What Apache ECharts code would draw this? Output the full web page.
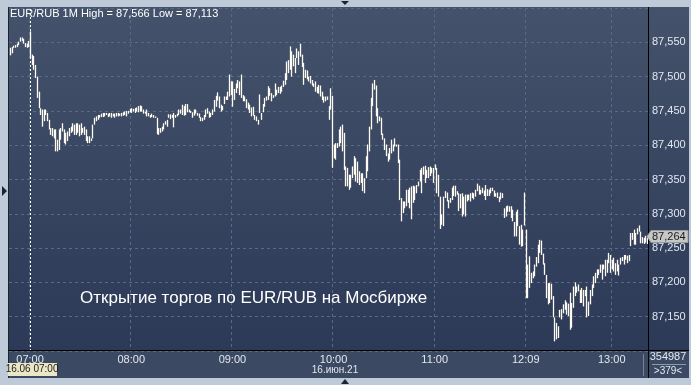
<!DOCTYPE html>
<html><head><meta charset="utf-8">
<script src="https://cdn.jsdelivr.net/npm/echarts@6/dist/echarts.min.js"></script>
<style>html,body{margin:0;padding:0;background:#bfcad8;}#c{width:691px;height:385px;}</style>
</head><body><div id="c"></div>
<script>
// ---- text / labels ----
const headerText = 'EUR/RUB 1M High = 87,566 Low = 87,113';
const annotation = 'Открытие торгов по EUR/RUB на Мосбирже';
const dateLabel = '16.июн.21';
const cursorLabel = '16.06 07:00';
const cursorIndex = 12;
const lastPrice = 87.264;
const volumeText = '354987';
const barCountText = '>379<';
const tickIndex = [12, 72, 132, 192, 252, 306, 357];
const tickLabels = ['07:00', '08:00', '09:00', '10:00', '11:00', '12:09', '13:00'];
const yMin = 87.1, yMax = 87.6, yStep = 0.05;

// ---- 1-minute bars: high / low ----
const highs = [
87.542,87.543,87.545,87.546,87.548,87.551,87.557,87.557,87.555,87.549,87.548,87.552,87.566,
87.532,87.530,87.517,87.500,87.478,87.454,87.452,87.452,87.452,87.447,
87.437,87.425,87.425,87.423,87.423,87.408,87.423,87.425,87.432,87.423,
87.418,87.420,87.425,87.427,87.432,87.430,87.432,87.432,87.430,87.432,
87.425,87.427,87.423,87.413,87.413,87.410,87.430,87.440,87.442,87.444,
87.444,87.446,87.447,87.447,87.447,87.446,87.447,87.447,87.446,87.446,
87.447,87.447,87.446,87.447,87.448,87.449,87.450,87.450,87.453,87.454,
87.453,87.454,87.455,87.457,87.458,87.457,87.452,87.449,87.452,87.447,
87.444,87.446,87.444,87.442,87.440,87.425,87.425,87.427,87.432,87.435,
87.437,
87.445,87.445,87.444,87.447,87.444,87.446,87.452,87.452,87.459,87.457,
87.460,87.460,87.452,87.450,87.448,87.452,87.452,87.447,87.446,87.441,
87.440,87.444,87.452,87.454,87.449,87.447,87.452,87.466,87.472,87.477,
87.471,87.459,87.457,87.471,87.471,87.478,87.503,87.493,87.493,87.482,
87.490,87.495,87.493,87.503,87.473,87.471,87.467,87.462,87.459,87.455,
87.456,87.444,87.442,87.437,87.474,87.447,87.460,87.469,87.471,87.486,
87.483,87.476,87.473,87.490,87.481,87.485,87.485,87.487,87.494,87.505,
87.522,87.524,87.544,87.537,87.532,87.527,87.541,87.537,87.548,87.532,
87.520,87.510,87.509,87.500,87.501,87.495,87.490,87.493,87.485,87.488,
87.487,87.478,87.471,87.471,87.471,
87.457,87.483,87.472,87.401,87.403,87.403,87.423,87.427,87.430,87.418,
87.369,87.367,87.357,87.357,87.369,87.384,87.381,87.376,87.362,87.359,
87.359,87.352,87.384,87.401,87.427,87.469,87.490,87.495,87.487,87.454,
87.442,87.440,87.417,87.410,87.401,87.388,87.396,87.408,87.401,87.410,
87.401,87.401,87.379,87.323,87.318,87.318,87.335,87.335,87.338,87.340,
87.341,87.340,87.342,87.347,87.364,87.367,87.369,87.370,87.364,87.368,
87.369,87.367,87.367,87.372,87.367,87.357,87.325,87.299,87.325,87.333,
87.331,87.320,87.323,87.338,87.341,87.341,87.333,87.330,87.329,87.330,
87.325,87.328,87.328,87.328,87.330,87.331,87.330,87.335,87.344,87.341,
87.335,87.338,87.334,87.342,87.336,87.335,
87.338,87.338,87.334,87.330,87.331,87.325,87.331,87.330,87.308,87.311,
87.312,87.311,87.311,87.306,87.288,87.303,87.306,87.282,87.284,87.277,
87.331,87.277,87.226,87.238,87.214,87.216,87.226,87.237,87.255,87.262,
87.261,87.242,87.228,87.211,87.199,87.199,87.198,87.180,87.149,87.141,
87.136,87.160,87.161,87.168,
87.174,87.171,87.169,87.185,87.170,87.194,87.200,87.194,87.197,87.189,
87.192,87.189,87.189,87.194,87.172,87.189,87.197,87.209,87.214,87.219,
87.219,87.226,87.226,87.226,87.233,87.233,87.243,87.240,87.233,87.236,
87.228,87.233,87.226,87.236,87.237,87.240,87.240,87.239,87.240,87.272,
87.272,87.277,87.272,87.279,87.283,87.274,87.266,87.265,87.268,87.265
];
const lows = [
87.531,87.534,87.542,87.542,87.543,87.546,87.551,87.552,87.548,87.543,87.542,87.543,87.527,
87.517,87.510,87.498,87.469,87.454,87.444,87.427,87.435,87.444,87.435,
87.423,87.415,87.413,87.410,87.391,87.391,87.393,87.408,87.420,87.403,
87.401,87.406,87.413,87.418,87.420,87.415,87.415,87.418,87.413,87.415,
87.418,87.415,87.406,87.403,87.403,87.406,87.410,87.430,87.435,87.437,
87.440,87.441,87.441,87.442,87.444,87.441,87.442,87.440,87.442,87.440,
87.442,87.442,87.443,87.442,87.443,87.444,87.442,87.446,87.448,87.447,
87.449,87.447,87.449,87.448,87.449,87.449,87.446,87.446,87.442,87.442,
87.440,87.441,87.440,87.440,87.416,87.415,87.418,87.420,87.423,87.430,
87.427,
87.440,87.438,87.440,87.426,87.440,87.442,87.444,87.446,87.444,87.443,
87.444,87.448,87.448,87.447,87.440,87.443,87.446,87.443,87.440,87.435,
87.435,87.437,87.441,87.446,87.440,87.441,87.444,87.449,87.456,87.465,
87.454,87.449,87.451,87.460,87.466,87.466,87.471,87.473,87.456,87.466,
87.476,87.483,87.473,87.469,87.464,87.464,87.454,87.452,87.447,87.442,
87.443,87.437,87.435,87.430,87.447,87.437,87.448,87.456,87.465,87.466,
87.472,87.464,87.469,87.471,87.473,87.476,87.475,87.478,87.485,87.488,
87.495,87.505,87.510,87.500,87.515,87.505,87.527,87.517,87.529,87.514,
87.488,87.498,87.496,87.493,87.490,87.487,87.485,87.478,87.476,87.475,
87.471,87.466,87.462,87.464,87.466,
87.437,87.452,87.367,87.381,87.379,87.396,87.398,87.403,87.391,87.364,
87.340,87.340,87.335,87.338,87.352,87.357,87.347,87.345,87.342,87.345,
87.333,87.330,87.352,87.362,87.391,87.423,87.457,87.481,87.442,87.432,
87.435,87.415,87.408,87.393,87.384,87.376,87.379,87.388,87.391,87.398,
87.398,87.374,87.320,87.289,87.301,87.308,87.311,87.316,87.308,87.292,
87.316,87.320,87.330,87.340,87.347,87.330,87.357,87.345,87.352,87.352,
87.355,87.359,87.345,87.364,87.330,87.325,87.278,87.284,87.282,87.323,
87.318,87.308,87.316,87.320,87.326,87.325,87.328,87.304,87.308,87.296,
87.299,87.296,87.318,87.320,87.318,87.323,87.321,87.325,87.333,87.328,
87.328,87.330,87.326,87.320,87.326,87.326,
87.330,87.333,87.325,87.325,87.323,87.317,87.321,87.323,87.294,87.296,
87.303,87.303,87.294,87.289,87.267,87.267,87.282,87.255,87.252,87.253,
87.283,87.177,87.177,87.192,87.199,87.206,87.209,87.223,87.228,87.243,
87.240,87.226,87.211,87.177,87.168,87.170,87.175,87.149,87.114,87.117,
87.119,87.149,87.146,87.155,
87.160,87.153,87.151,87.131,87.134,87.163,87.180,87.185,87.187,87.170,
87.170,87.165,87.180,87.149,87.151,87.168,87.180,87.192,87.199,87.206,
87.211,87.214,87.204,87.219,87.209,87.214,87.228,87.214,87.219,87.216,
87.211,87.216,87.210,87.226,87.231,87.226,87.233,87.228,87.231,87.253,
87.262,87.255,87.255,87.270,87.274,87.257,87.257,87.256,87.258,87.256
];

const FONT = '"Liberation Sans", Arial, sans-serif';
const AXIS_TXT = '#e2e8f0';
const GRID_COL = '#5a6a86';
const chart = echarts.init(document.getElementById('c'), null, {renderer: 'canvas'});
const cats = highs.map((_, i) => i);
const barData = highs.map((h, i) => [i, h, lows[i]]);

chart.setOption({
  animation: false,
  backgroundColor: '#bfcad8',
  grid: {left: 9, right: 43, top: 8, bottom: 34, containLabel: false},
  xAxis: {
    type: 'category', data: cats, boundaryGap: true,
    axisLine: {show: false}, axisTick: {show: false},
    axisLabel: {
      interval: (i) => tickIndex.includes(i),
      formatter: (v, i) => { const k = tickIndex.indexOf(i); return k >= 0 ? tickLabels[k] : ''; },
      color: AXIS_TXT, fontSize: 11, fontFamily: FONT, margin: 3
    },
    splitLine: {show: true, interval: (i) => tickIndex.includes(i),
      lineStyle: {color: GRID_COL, type: [3, 3], width: 1}}
  },
  yAxis: {
    type: 'value', position: 'right', min: yMin, max: yMax, interval: yStep,
    axisLine: {show: false}, axisTick: {show: false},
    axisLabel: {showMinLabel: false, showMaxLabel: false,
      formatter: (v) => v.toFixed(3).replace('.', ','),
      color: AXIS_TXT, fontSize: 11, fontFamily: FONT, margin: 4},
    splitLine: {show: true, lineStyle: {color: GRID_COL, type: [3, 3], width: 1}}
  },
  series: [{
    type: 'custom', data: barData, encode: {x: 0, y: [1, 2]}, clip: true, z: 3,
    renderItem: (p, api) => {
      const a = api.coord([api.value(0), api.value(1)]);
      const b = api.coord([api.value(0), api.value(2)]);
      const x = Math.round(a[0]) + 0.5;
      let y1 = a[1], y2 = b[1];
      if (y2 - y1 < 1.5) y2 = y1 + 1.5;
      return {type: 'line', shape: {x1: x, y1: y1, x2: x, y2: y2},
        style: {stroke: '#fffaf2', lineWidth: 1.3}};
    },
    markLine: {silent: true, symbol: 'none', animation: false, label: {show: false},
      lineStyle: {color: '#ffffff', type: [2, 2], width: 1},
      data: [{xAxis: cursorIndex}]}
  }]
});

const py = chart.convertToPixel({yAxisIndex: 0}, lastPrice);
const cx = chart.convertToPixel({xAxisIndex: 0}, cursorIndex);
const grad = new echarts.graphic.LinearGradient(0, 0, 0, 1, [
  {offset: 0, color: '#44526b'}, {offset: 1, color: '#2c3957'}]);

chart.setOption({
  graphic: [
    {type: 'rect', z: -10, shape: {x: 8, y: 7, width: 681, height: 344}, style: {fill: grad}},
    {type: 'rect', z: -10, shape: {x: 8, y: 351, width: 681, height: 27}, style: {fill: '#3c4963'}},
    {type: 'line', z: 5, shape: {x1: 8.5, y1: 7, x2: 8.5, y2: 378}, style: {stroke: '#1b2230', lineWidth: 1}},
    {type: 'line', z: 5, shape: {x1: 648.5, y1: 7, x2: 648.5, y2: 378}, style: {stroke: '#000000', lineWidth: 1}},
    {type: 'line', z: 5, shape: {x1: 8, y1: 350.5, x2: 689, y2: 350.5}, style: {stroke: '#000000', lineWidth: 1}},
    {type: 'line', z: 5, shape: {x1: 643.5, y1: 354, x2: 643.5, y2: 376}, style: {stroke: '#75829a', lineWidth: 1}},
    {type: 'line', z: 5, shape: {x1: 652, y1: 364.5, x2: 686, y2: 364.5}, style: {stroke: '#8d99ad', lineWidth: 1}},
    {type: 'text', z: 5, style: {text: volumeText, x: 668, y: 357, align: 'center', verticalAlign: 'middle',
      fill: AXIS_TXT, font: '11px ' + FONT}},
    {type: 'text', z: 5, style: {text: barCountText, x: 668, y: 371, align: 'center', verticalAlign: 'middle',
      fill: AXIS_TXT, font: '10px ' + FONT}},
    {type: 'text', z: 5, style: {text: dateLabel, x: 335, y: 370, align: 'center', verticalAlign: 'middle',
      fill: AXIS_TXT, font: '10px ' + FONT}},
    {type: 'rect', z: 6, shape: {x: 8, y: 363, width: 49, height: 13}, style: {fill: '#ebe7c6'}},
    {type: 'text', z: 7, style: {text: cursorLabel, x: cx + 2, y: 369.5, align: 'center', verticalAlign: 'middle',
      fill: '#1a1a1a', font: '10px ' + FONT}},
    {type: 'text', z: 5, style: {text: headerText, x: 10, y: 14, verticalAlign: 'middle',
      fill: '#ffffff', font: '11px ' + FONT}},
    {type: 'text', z: 5, style: {text: annotation, x: 80, y: 298, verticalAlign: 'middle',
      fill: '#ffffff', font: '17px ' + FONT}},
    {type: 'polygon', z: 6, shape: {points: [[647, py - 2], [651, py - 8], [688, py - 8], [688, py + 4], [651, py + 4]]},
      style: {fill: '#c7c7c7', stroke: '#9a9a9a', lineWidth: 1}},
    {type: 'text', z: 7, style: {text: lastPrice.toFixed(3).replace('.', ','), x: 652, y: py - 2, verticalAlign: 'middle',
      fill: '#1a1a1a', font: '11px ' + FONT}},
    {type: 'polygon', z: 5, shape: {points: [[341, 1], [349, 1], [345, 5]]}, style: {fill: '#1d2330'}},
    {type: 'polygon', z: 5, shape: {points: [[341, 384], [349, 384], [345, 379]]}, style: {fill: '#1d2330'}},
    {type: 'polygon', z: 5, shape: {points: [[2, 186], [2, 196], [7, 191]]}, style: {fill: '#1d2330'}}
  ]
});
</script></body></html>
